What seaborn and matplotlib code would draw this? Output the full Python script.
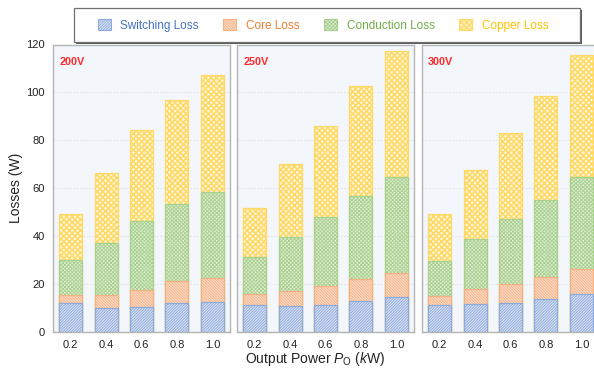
import matplotlib
matplotlib.use("Agg")
import matplotlib.pyplot as plt
from matplotlib.patches import Patch, Rectangle
import seaborn as sns
import numpy as np
import pandas as pd

# Output power levels (kW) and input voltage cases
powers = ["0.2", "0.4", "0.6", "0.8", "1.0"]
voltages = ["200V", "250V", "300V"]

# Loss components (W) per voltage, one value per output power
switching = {
    "200V": [12.0, 10.0, 10.3, 12.0, 12.5],
    "250V": [11.4, 10.7, 11.4, 12.8, 14.5],
    "300V": [11.4, 11.6, 12.3, 13.8, 15.9],
}
core = {
    "200V": [3.3, 5.5, 7.2, 9.2, 10.2],
    "250V": [4.3, 6.3, 7.7, 9.2, 10.3],
    "300V": [3.8, 6.2, 7.6, 9.0, 10.5],
}
conduction = {
    "200V": [14.6, 21.7, 28.9, 32.3, 35.9],
    "250V": [15.5, 22.5, 28.8, 34.7, 40.1],
    "300V": [14.6, 21.0, 27.2, 32.3, 38.2],
}
copper = {
    "200V": [19.5, 29.1, 38.0, 43.4, 48.8],
    "250V": [20.5, 30.7, 38.0, 45.9, 52.3],
    "300V": [19.4, 29.0, 35.9, 43.5, 51.0],
}

loss_names = ["Switching Loss", "Core Loss", "Conduction Loss", "Copper Loss"]
loss_data = [switching, core, conduction, copper]
fills = ["#d6e0f3", "#fbdcc8", "#dcebd1", "#fff5d8"]
edges = ["#8eaadb", "#f4b183", "#a9d18e", "#ffd966"]
hatches = ["/" * 12, "\\" * 12, "x" * 9, "x" * 6]
hatch_lw = [0.6, 0.6, 0.6, 1.1]
text_colors = ["#4472c4", "#ed7d31", "#70ad47", "#ffc000"]

sns.set_style("white")
plt.rcParams["font.family"] = ["Liberation Sans", "DejaVu Sans"]
plt.rcParams["mathtext.fontset"] = "custom"
plt.rcParams["mathtext.rm"] = "Liberation Sans"
plt.rcParams["mathtext.it"] = "Liberation Sans:italic"
plt.rcParams["hatch.linewidth"] = 0.6


def apply_hatch_width(patches, lw):
    for p in patches:
        if hasattr(p, "set_hatch_linewidth"):
            p.set_hatch_linewidth(lw)


fig = plt.figure(figsize=(5.94, 3.78), dpi=100)

W, H = 594.0, 378.0
panel_left = [53, 237, 422]
panel_w = 177
y_bottom, y_top = 332, 44.5

axes = []
for i, v in enumerate(voltages):
    ax = fig.add_axes([panel_left[i] / W, (H - y_bottom) / H,
                       panel_w / W, (y_bottom - y_top) / H])
    ax.set_facecolor("#f3f6fb")
    ax.set_axisbelow(True)
    ax.yaxis.grid(True, color="#dcdfe4", linestyle=(0, (2, 2)), linewidth=0.6)

    # cumulative stack heights, drawn from the top component down
    stack = np.cumsum([np.array(d[v]) for d in loss_data], axis=0)
    for k in range(3, -1, -1):
        df = pd.DataFrame({"power": powers, "loss": stack[k]})
        n_before = len(ax.patches)
        sns.barplot(data=df, x="power", y="loss", ax=ax, width=0.65,
                    color=fills[k], edgecolor=edges[k], linewidth=0.9,
                    hatch=hatches[k], saturation=1)
        apply_hatch_width(ax.patches[n_before:], hatch_lw[k])

    ax.set_ylim(0, 120)
    ax.set_xlim(-0.5, 4.5)
    ax.set_yticks([0, 20, 40, 60, 80, 100, 120])
    ax.set_xlabel("")
    ax.set_ylabel("")
    ax.tick_params(axis="both", length=0, labelsize=8, colors="#222222")
    ax.tick_params(axis="x", pad=6)
    ax.tick_params(axis="y", pad=6)
    if i > 0:
        ax.set_yticklabels([])
    for s in ax.spines.values():
        s.set_color("#b4b4b4")
        s.set_linewidth(1.0)
    ax.text(0.035, 0.955, v, transform=ax.transAxes, color="#ff2a2a",
            fontsize=7.8, fontweight="bold", ha="left", va="top")
    axes.append(ax)

fig.text(16 / W, 1 - 188 / H, "Losses (W)", rotation=90, fontsize=10,
         ha="center", va="center", color="#222222")
fig.text(315 / W, 1 - 359 / H, r"Output Power $P_{\mathrm{O}}$ ($k$W)",
         fontsize=10, ha="center", va="center", color="#222222")

# legend box with a drop shadow
box_x0, box_y0, box_x1, box_y1 = 74, 8, 580, 42
shadow = Rectangle(((box_x0 + 2) / W, 1 - (box_y1 + 2) / H),
                   (box_x1 - box_x0) / W, (box_y1 - box_y0) / H,
                   transform=fig.transFigure, facecolor="#5a5a5a",
                   edgecolor="none", zorder=1)
frame = Rectangle((box_x0 / W, 1 - box_y1 / H),
                  (box_x1 - box_x0) / W, (box_y1 - box_y0) / H,
                  transform=fig.transFigure, facecolor="white",
                  edgecolor="#707070", linewidth=0.9, zorder=2)
fig.patches.extend([shadow, frame])

handles = [Patch(facecolor=fills[k], edgecolor=edges[k], hatch=hatches[k],
                 linewidth=0.8) for k in range(4)]
leg = fig.legend(handles, loss_names, loc="center", ncol=4,
                 bbox_to_anchor=(323 / W, 1 - 25.5 / H), frameon=False,
                 fontsize=8.5, handlelength=1.1, handleheight=1.1,
                 columnspacing=2.1, handletextpad=0.8, borderpad=0,
                 borderaxespad=0)
leg.set_zorder(3)
apply_hatch_width(leg.get_patches()[3:], hatch_lw[3])
for t, c in zip(leg.get_texts(), text_colors):
    t.set_color(c)

fig.savefig("out.png", dpi=100, facecolor="white")
